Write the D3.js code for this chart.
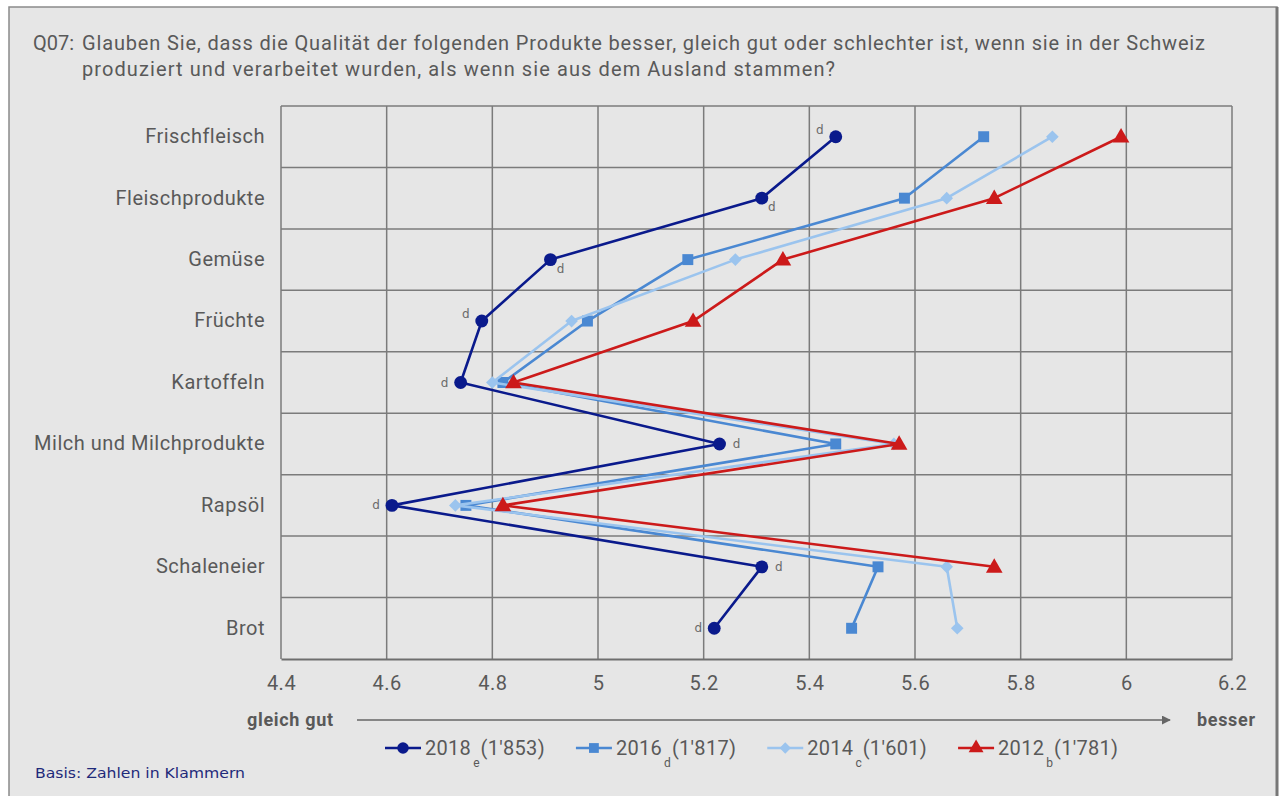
<!DOCTYPE html>
<html>
<head>
<meta charset="utf-8">
<script src="https://cdn.jsdelivr.net/npm/d3@7"></script>
<style>
  html, body { margin: 0; padding: 0; background: #fff; }
  svg { display: block; }
  .cond { font-family: Roboto, 'Liberation Sans', sans-serif; }
</style>
</head>
<body>
<script>
const categories = ['Frischfleisch', 'Fleischprodukte', 'Gemüse', 'Früchte', 'Kartoffeln',
  'Milch und Milchprodukte', 'Rapsöl', 'Schaleneier', 'Brot']

const xTicks = [4.4, 4.6, 4.8, 5, 5.2, 5.4, 5.6, 5.8, 6, 6.2]

const values2018 = [5.45, 5.31, 4.91, 4.78, 4.74, 5.23, 4.61, 5.31, 5.22]
const values2016 = [5.73, 5.58, 5.17, 4.98, 4.82, 5.45, 4.75, 5.53, 5.48]
const values2014 = [5.86, 5.66, 5.26, 4.95, 4.80, 5.56, 4.73, 5.66, 5.68]
const values2012 = [5.99, 5.75, 5.35, 5.18, 4.84, 5.57, 4.82, 5.75, null]

// position of the "d" label for each 2018 point
const labels2018 = ['ul', 'dr', 'dr', 'ul', 'l', 'r', 'l', 'r', 'l']

// diamond = square turned by 45deg
const series = [
  { name: '2018', sub: 'e', base: "(1'853)", values: values2018, color: '#0a1a8c', symbol: d3.symbolCircle, size: 130, rot: 0 },
  { name: '2016', sub: 'd', base: "(1'817)", values: values2016, color: '#4a88d2', symbol: d3.symbolSquare, size: 120, rot: 0 },
  { name: '2014', sub: 'c', base: "(1'601)", values: values2014, color: '#9bc4ee', symbol: d3.symbolSquare, size: 80, rot: 45 },
  { name: '2012', sub: 'b', base: "(1'781)", values: values2012, color: '#cc1a1a', symbol: d3.symbolTriangle, size: 120, rot: 0 },
]

const W = 1279, H = 796
const plot = { left: 281, right: 1232, top: 106, bottom: 659 }
const textGrey = '#595959'

const svg = d3.select('body').append('svg')
  .attr('width', W).attr('height', H)

// frame
svg.append('rect')
  .attr('x', 9).attr('y', 7).attr('width', W - 11).attr('height', H)
  .attr('fill', '#e6e6e6')
  .attr('stroke', '#8a8a8a').attr('stroke-width', 1.5)
svg.append('line')
  .attr('x1', W - 2).attr('x2', W - 2).attr('y1', 7).attr('y2', H)
  .attr('stroke', '#777').attr('stroke-width', 3)

// title
const title = svg.append('text').classed('cond', true)
  .attr('fill', textGrey).style('font-size', '20px')
title.append('tspan').attr('x', 33).attr('y', 50).text('Q07:')
title.append('tspan').attr('x', 82).attr('y', 50)
  .attr('textLength', 1123).attr('lengthAdjust', 'spacing')
  .text('Glauben Sie, dass die Qualität der folgenden Produkte besser, gleich gut oder schlechter ist, wenn sie in der Schweiz')
title.append('tspan').attr('x', 82).attr('y', 76)
  .attr('textLength', 753).attr('lengthAdjust', 'spacing')
  .text('produziert und verarbeitet wurden, als wenn sie aus dem Ausland stammen?')

const x = d3.scaleLinear().domain([4.4, 6.2]).range([plot.left, plot.right])
const y = d3.scaleBand().domain(categories).range([plot.top, plot.bottom])
const yc = c => y(c) + y.bandwidth() / 2

// grid
const grid = svg.append('g').attr('stroke', '#7b7b7b').attr('stroke-width', 1.5)
grid.selectAll('line.v').data(xTicks).join('line')
  .attr('x1', d => x(d)).attr('x2', d => x(d))
  .attr('y1', plot.top).attr('y2', plot.bottom)
grid.selectAll('line.h').data(categories.slice(1)).join('line')
  .attr('x1', plot.left).attr('x2', plot.right)
  .attr('y1', d => y(d)).attr('y2', d => y(d))
grid.append('line')
  .attr('x1', plot.left).attr('x2', plot.right)
  .attr('y1', plot.top).attr('y2', plot.top)

// x axis
const xAxis = svg.append('g')
  .attr('transform', `translate(0,${plot.bottom})`)
  .call(d3.axisBottom(x).tickValues(xTicks).tickSize(0).tickPadding(17).tickFormat(d3.format('~g')))
xAxis.select('.domain').attr('stroke', '#6e6e6e').attr('stroke-width', 2)
xAxis.selectAll('text').classed('cond', true)
  .attr('fill', textGrey).style('font-size', '20px').style('letter-spacing', '0.5px')

// y axis labels
const yAxis = svg.append('g')
  .attr('transform', `translate(${plot.left},0)`)
  .call(d3.axisLeft(y).tickSize(0).tickPadding(16))
yAxis.select('.domain').remove()
yAxis.selectAll('text').classed('cond', true)
  .attr('fill', textGrey).style('font-size', '20px').style('letter-spacing', '0.5px')

// lines + markers (2012 drawn last, on top)
const line = d3.line()
  .defined(d => d.v != null)
  .x(d => x(d.v))
  .y(d => yc(d.c))

series.forEach(s => {
  const pts = categories.map((c, i) => ({ c, v: s.values[i] }))
  const g = svg.append('g')
  g.append('path')
    .attr('d', line(pts))
    .attr('fill', 'none')
    .attr('stroke', s.color)
    .attr('stroke-width', 2.6)
    .attr('stroke-linejoin', 'round')
  g.selectAll('path.m').data(pts.filter(d => d.v != null)).join('path')
    .attr('transform', d => `translate(${x(d.v)},${yc(d.c) + (s.symbol === d3.symbolTriangle ? 1 : 0)}) rotate(${s.rot})`)
    .attr('d', d3.symbol(s.symbol, s.size))
    .attr('fill', s.color)
})

// "d" significance labels on 2018
const labelOffsets = { ul: [-16, -3], dr: [10, 13], l: [-16, 4], r: [17, 4] }
svg.append('g').selectAll('text')
  .data(categories.map((c, i) => ({ c, v: values2018[i], pos: labels2018[i] })))
  .join('text')
  .attr('x', d => x(d.v) + labelOffsets[d.pos][0])
  .attr('y', d => yc(d.c) + labelOffsets[d.pos][1])
  .attr('text-anchor', 'middle')
  .attr('fill', '#6a6a6a')
  .style('font-family', "'DejaVu Sans', sans-serif")
  .style('font-size', '12px')
  .text('d')

// direction arrow
svg.append('defs').append('marker')
  .attr('id', 'arrow').attr('viewBox', '0 0 10 10')
  .attr('refX', 9).attr('refY', 5)
  .attr('markerWidth', 6).attr('markerHeight', 6)
  .attr('orient', 'auto')
  .append('path').attr('d', 'M0,0L10,5L0,10z').attr('fill', '#666')
svg.append('line')
  .attr('x1', 357).attr('x2', 1170).attr('y1', 720).attr('y2', 720)
  .attr('stroke', '#666').attr('stroke-width', 1.5)
  .attr('marker-end', 'url(#arrow)')
svg.append('text').classed('cond', true)
  .attr('x', 333).attr('y', 726).attr('text-anchor', 'end')
  .attr('fill', textGrey).style('font-size', '18px').style('font-weight', 'bold')
  .attr('textLength', 86).attr('lengthAdjust', 'spacing')
  .text('gleich gut')
svg.append('text').classed('cond', true)
  .attr('x', 1197).attr('y', 726)
  .attr('fill', textGrey).style('font-size', '18px').style('font-weight', 'bold')
  .attr('textLength', 58).attr('lengthAdjust', 'spacing')
  .text('besser')

// legend
const legend = svg.append('g').attr('transform', 'translate(385,748)')
let lx = 0
series.forEach(s => {
  const item = legend.append('g').attr('transform', `translate(${lx},0)`)
  item.append('line').attr('x1', 0).attr('x2', 36).attr('y1', 0).attr('y2', 0)
    .attr('stroke', s.color).attr('stroke-width', 2.6)
  item.append('path').attr('transform', `translate(18,0) rotate(${s.rot})`)
    .attr('d', d3.symbol(s.symbol, s.size * 0.8)).attr('fill', s.color)
  const t1 = item.append('text').classed('cond', true)
    .attr('x', 40).attr('y', 7).attr('fill', textGrey)
    .style('font-size', '20px').style('letter-spacing', '0.3px').text(s.name)
  const w1 = t1.node().getComputedTextLength()
  const t2 = item.append('text').classed('cond', true)
    .attr('x', 40 + w1 + 2).attr('y', 19).attr('fill', textGrey).style('font-size', '12px').text(s.sub)
  const w2 = t2.node().getComputedTextLength()
  const t3 = item.append('text').classed('cond', true)
    .attr('x', 40 + w1 + w2 + 3).attr('y', 7).attr('fill', textGrey)
    .style('font-size', '20px').style('letter-spacing', '0.3px').text(s.base)
  const w3 = t3.node().getComputedTextLength()
  lx += 40 + w1 + w2 + w3 + 34
})

// footnote
svg.append('text')
  .attr('x', 35).attr('y', 778)
  .attr('fill', '#1f2a7a')
  .attr('textLength', 210).attr('lengthAdjust', 'spacingAndGlyphs')
  .style('font-family', "'DejaVu Sans', sans-serif")
  .style('font-size', '14px')
  .text('Basis: Zahlen in Klammern')
</script>
</body>
</html>
